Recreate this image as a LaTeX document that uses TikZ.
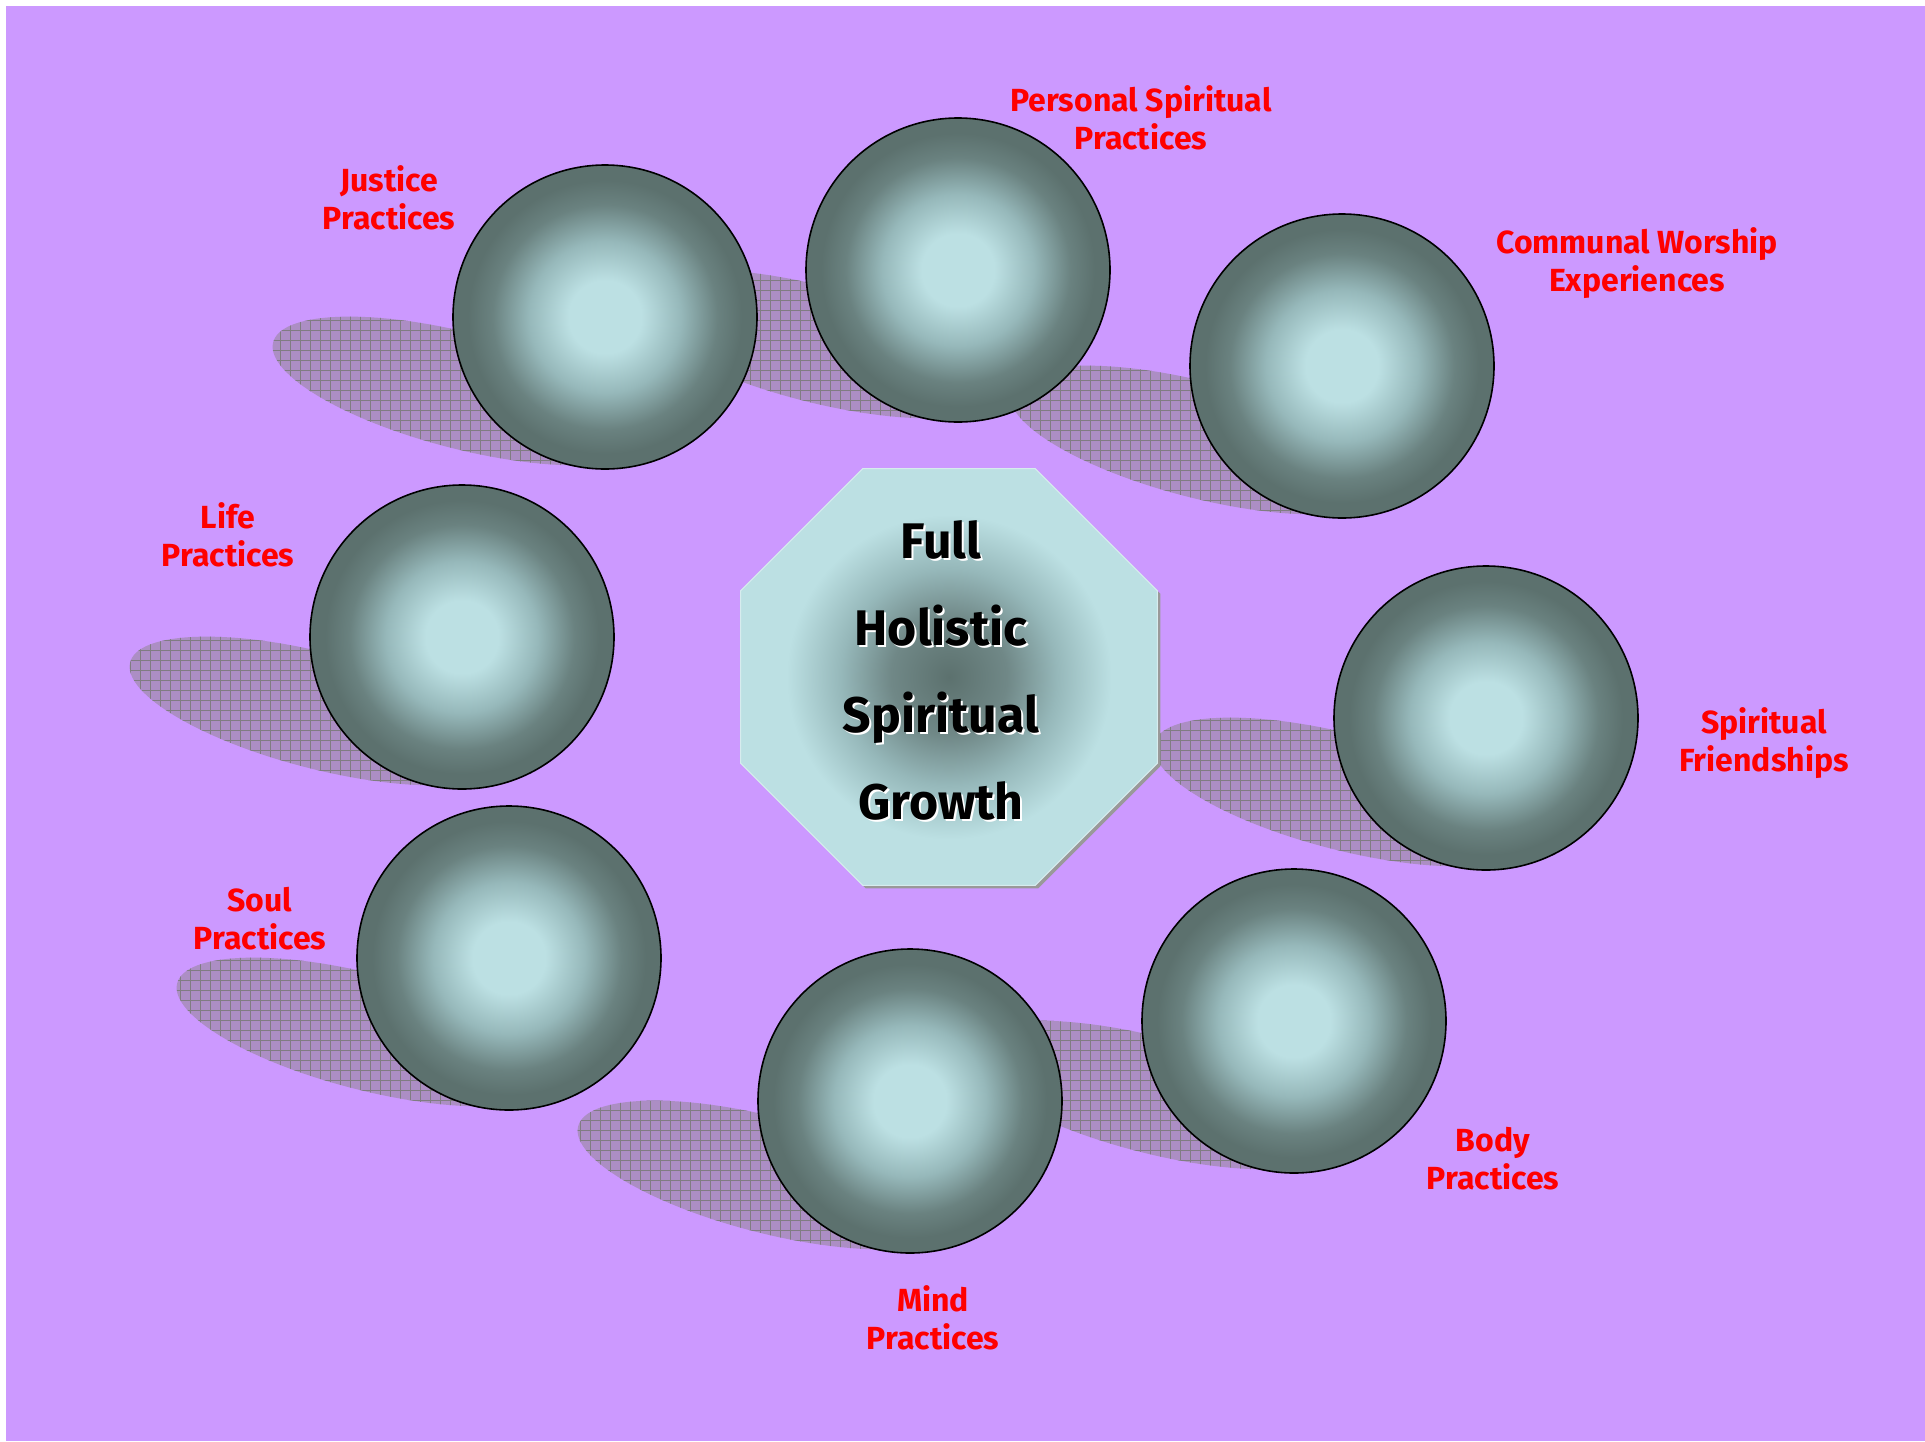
\documentclass[tikz,border=0pt]{standalone}
\usepackage{fontspec}
\setmainfont{Fira Sans}
\usetikzlibrary{shapes.geometric,patterns.meta}

\definecolor{bgviolet}{RGB}{204,153,255}
\definecolor{sphlight}{RGB}{188,224,227}
\definecolor{sphmid}{RGB}{150,184,186}
\definecolor{sphlow}{RGB}{106,130,128}
\definecolor{sphdark}{RGB}{92,113,110}
\definecolor{coremid}{RGB}{112,136,135}
\definecolor{puddle}{RGB}{172,142,196}
\definecolor{puddlegrid}{RGB}{128,124,130}

\pgfdeclareradialshading{sphereglow}{\pgfpointorigin}{color(0bp)=(sphlight); color(6bp)=(sphlight); color(12.5bp)=(sphmid); color(18.5bp)=(sphlow); color(22.5bp)=(sphdark); color(25bp)=(sphdark); color(50bp)=(sphdark)}
\pgfdeclareradialshading{coreglow}{\pgfpointorigin}{color(0bp)=(sphdark); color(7bp)=(coremid); color(13bp)=(sphmid); color(19.5bp)=(sphlight); color(25bp)=(sphlight); color(50bp)=(sphlight)}

\begin{document}
\begin{tikzpicture}[x=1pt,y=-1pt,
    sphere/.style={circle, minimum size=304pt, inner sep=0pt, draw=black, line width=1.6pt, shade, shading=sphereglow},
    octa/.style={regular polygon, regular polygon sides=8, minimum size=451pt, inner sep=0pt},
    sphshadow/.style={fill=puddle, postaction={pattern={Hatch[angle=0,distance=10pt,line width=1pt]}, pattern color=puddlegrid}},
    tag/.style={text=red, align=center, font=\fontsize{32}{38}\selectfont\bfseries},
    coretxt/.style={align=center, font=\fontsize{50}{87}\selectfont\bfseries}]
  \useasboundingbox (0,0) rectangle (1925,1441);
  \fill[white] (0,0) rectangle (1925,1441);
  \fill[bgviolet] (6,6) rectangle (1925,1441);
  % shadows under the balls
  \foreach \px/\py in {605/317, 958/270, 1342/366, 1486/718, 1294/1021, 910/1101, 509/958, 462/637}
    \path[sphshadow, rotate around={-14.4:(\px-142,\py+74)}] (\px-142,\py+74) ellipse [x radius=196, y radius=58];
  % centre octagon
  \node[octa, fill=black!40] (coreshadow) at (952,680) {};
  \node[octa, shade, shading=coreglow, draw=sphlight!60!white, line width=1pt] (core) at (949,677) {};
  \node[coretxt, text=white] (coreecho) at (943,672) {Full\\Holistic\\Spiritual\\Growth};
  \node[coretxt] (coretext) at (941,670) {Full\\Holistic\\Spiritual\\Growth};
  % the eight balls
  \foreach \nm/\px/\py in {justice/605/317, personal/958/270, communal/1342/366, friends/1486/718,
                          body/1294/1021, mind/910/1101, soul/509/958, life/462/637}
    \node[sphere] (\nm) at (\px,\py) {};
  % labels
  \node[tag] (justice-tag) at (389,198) {Justice\\Practices};
  \node[tag] (personal-tag) at (1141,118) {Personal Spiritual\\Practices};
  \node[tag] (communal-tag) at (1637,263) {Communal Worship\\Experiences};
  \node[tag] (friends-tag) at (1764,743) {Spiritual\\Friendships};
  \node[tag] (body-tag) at (1493,1159) {Body\\Practices};
  \node[tag] (mind-tag) at (933,1318) {Mind\\Practices};
  \node[tag] (soul-tag) at (260,919) {Soul\\Practices};
  \node[tag] (life-tag) at (228,535) {Life\\Practices};
\end{tikzpicture}
\end{document}
